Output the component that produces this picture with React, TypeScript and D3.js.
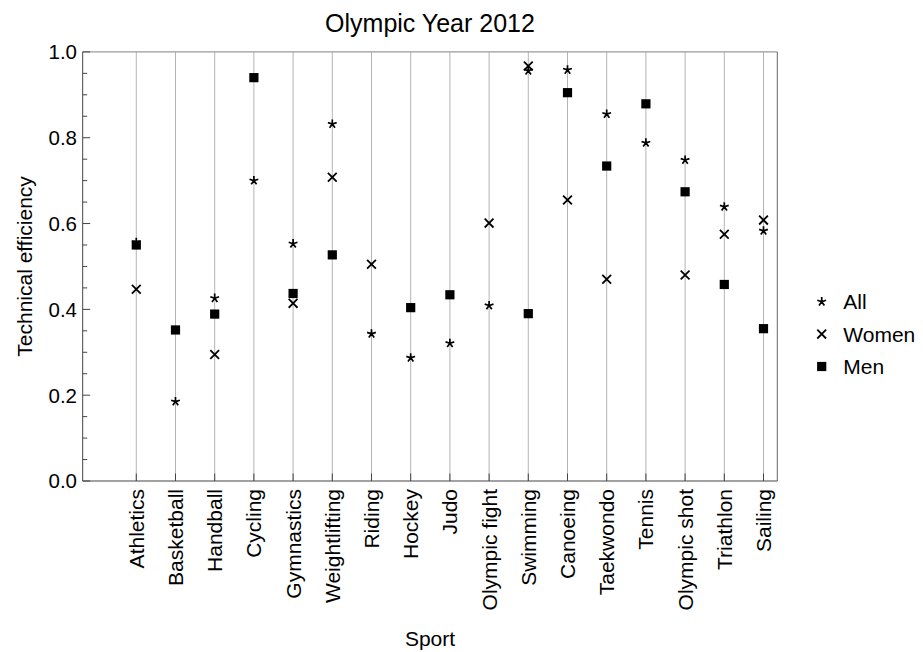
import React from "react";
import * as d3 from "d3";

const sports = ["Athletics","Basketball","Handball","Cycling","Gymnastics","Weightlifting","Riding","Hockey","Judo","Olympic fight","Swimming","Canoeing","Taekwondo","Tennis","Olympic shot","Triathlon","Sailing"];
const allValues: (number | null)[] = [0.556,0.185,0.426,0.700,0.553,0.832,0.343,0.287,0.321,0.409,0.956,0.958,0.855,0.788,0.748,0.639,0.583];
const womenValues: (number | null)[] = [0.447,null,0.295,null,0.414,0.708,0.505,null,null,0.601,0.967,0.655,0.470,null,0.480,0.575,0.608];
const menValues: (number | null)[] = [0.550,0.352,0.389,0.940,0.437,0.527,null,0.404,0.434,null,0.390,0.905,0.734,0.879,0.674,0.458,0.355];
const yTicks = [0, 0.2, 0.4, 0.6, 0.8, 1.0];
const seriesNames = ["All", "Women", "Men"];

const W = 923, H = 652;
const L = 82.7, R = 777.3, T = 51.9, B = 481;
const FONT = "'Liberation Sans', Arial, Helvetica, sans-serif";

const x = d3.scaleLinear().domain([-1.367, 16.352]).range([L, R]);
const y = d3.scaleLinear().domain([0, 1]).range([B, T]);

function starPath(cx: number, cy: number, r: number) {
  const angles = [-90, -18, 54, 126, 198];
  return angles.map(a => {
    const t = (a * Math.PI) / 180;
    return `M${cx},${cy}L${cx + r * Math.cos(t)},${cy + r * Math.sin(t)}`;
  }).join("");
}

function Star({ cx, cy }: { cx: number; cy: number }) {
  return <path d={starPath(cx, cy, 4.6)} stroke="#000" strokeWidth={1.7} fill="none" strokeLinecap="butt" />;
}
function Cross({ cx, cy }: { cx: number; cy: number }) {
  const s = 4.4;
  return <path d={`M${cx - s},${cy - s}L${cx + s},${cy + s}M${cx - s},${cy + s}L${cx + s},${cy - s}`} stroke="#000" strokeWidth={1.8} fill="none" />;
}
function Square({ cx, cy }: { cx: number; cy: number }) {
  const s = 9.2;
  return <rect x={cx - s / 2} y={cy - s / 2} width={s} height={s} fill="#000" />;
}

export default function App() {
  const minor = d3.range(0, 1.0001, 0.05);
  return (
    <svg width={W} height={H} style={{ position: "absolute", left: 0, top: 0, background: "#fff" }} fontFamily={FONT}>
      <rect x={0} y={0} width={W} height={H} fill="#fff" />
      {/* grid lines */}
      {sports.map((s, i) => (
        <line key={"g" + s} x1={x(i)} x2={x(i)} y1={T} y2={B} stroke="#b4b4b4" strokeWidth={1} />
      ))}
      {/* frame */}
      <line x1={L} x2={R} y1={T} y2={T} stroke="#9a9a9a" strokeWidth={1.2} />
      <line x1={R} x2={R} y1={T} y2={B} stroke="#666" strokeWidth={1} />
      <line x1={L} x2={L} y1={T} y2={B} stroke="#444" strokeWidth={1} />
      <line x1={L} x2={R} y1={B} y2={B} stroke="#444" strokeWidth={1} />
      {/* y ticks */}
      {minor.map((v, i) => (
        <line key={"yt" + i} x1={L} x2={L + (i % 4 === 0 ? 7.5 : 4.5)} y1={y(v)} y2={y(v)} stroke="#444" strokeWidth={1} />
      ))}
      {yTicks.map(v => (
        <text key={"yl" + v} x={77} y={y(v)} dy="0.36em" textAnchor="end" fontSize={20.5} fill="#000">{v.toFixed(1)}</text>
      ))}
      {/* x ticks */}
      {sports.map((s, i) => (
        <g key={"xt" + s}>
          <line x1={x(i)} x2={x(i)} y1={B} y2={B - 7.5} stroke="#444" strokeWidth={1} />
          <text transform={`translate(${x(i)},489) rotate(-90)`} dy="0.36em" textAnchor="end" fontSize={21} fill="#000">{s}</text>
        </g>
      ))}
      {/* markers */}
      {menValues.map((v, i) => v == null ? null : <Square key={"m" + i} cx={x(i)} cy={y(v)} />)}
      {womenValues.map((v, i) => v == null ? null : <Cross key={"w" + i} cx={x(i)} cy={y(v)} />)}
      {allValues.map((v, i) => v == null ? null : <Star key={"a" + i} cx={x(i)} cy={y(v)} />)}
      {/* titles */}
      <text x={(L + R) / 2} y={31.5} textAnchor="middle" fontSize={25} fill="#000">Olympic Year 2012</text>
      <text x={(L + R) / 2} y={646} textAnchor="middle" fontSize={21} fill="#000">Sport</text>
      <text transform={`translate(32,${(T + B) / 2}) rotate(-90)`} textAnchor="middle" fontSize={21} fill="#000">Technical efficiency</text>
      {/* legend */}
      {seriesNames.map((n, i) => {
        const ly = 301.7 + i * 32.4;
        const lx = 821.7;
        return (
          <g key={"lg" + n}>
            {i === 0 ? <Star cx={lx} cy={ly} /> : i === 1 ? <Cross cx={lx} cy={ly} /> : <Square cx={lx} cy={ly} />}
            <text x={843.3} y={ly} dy="0.36em" fontSize={21} fill="#000">{n}</text>
          </g>
        );
      })}
    </svg>
  );
}
